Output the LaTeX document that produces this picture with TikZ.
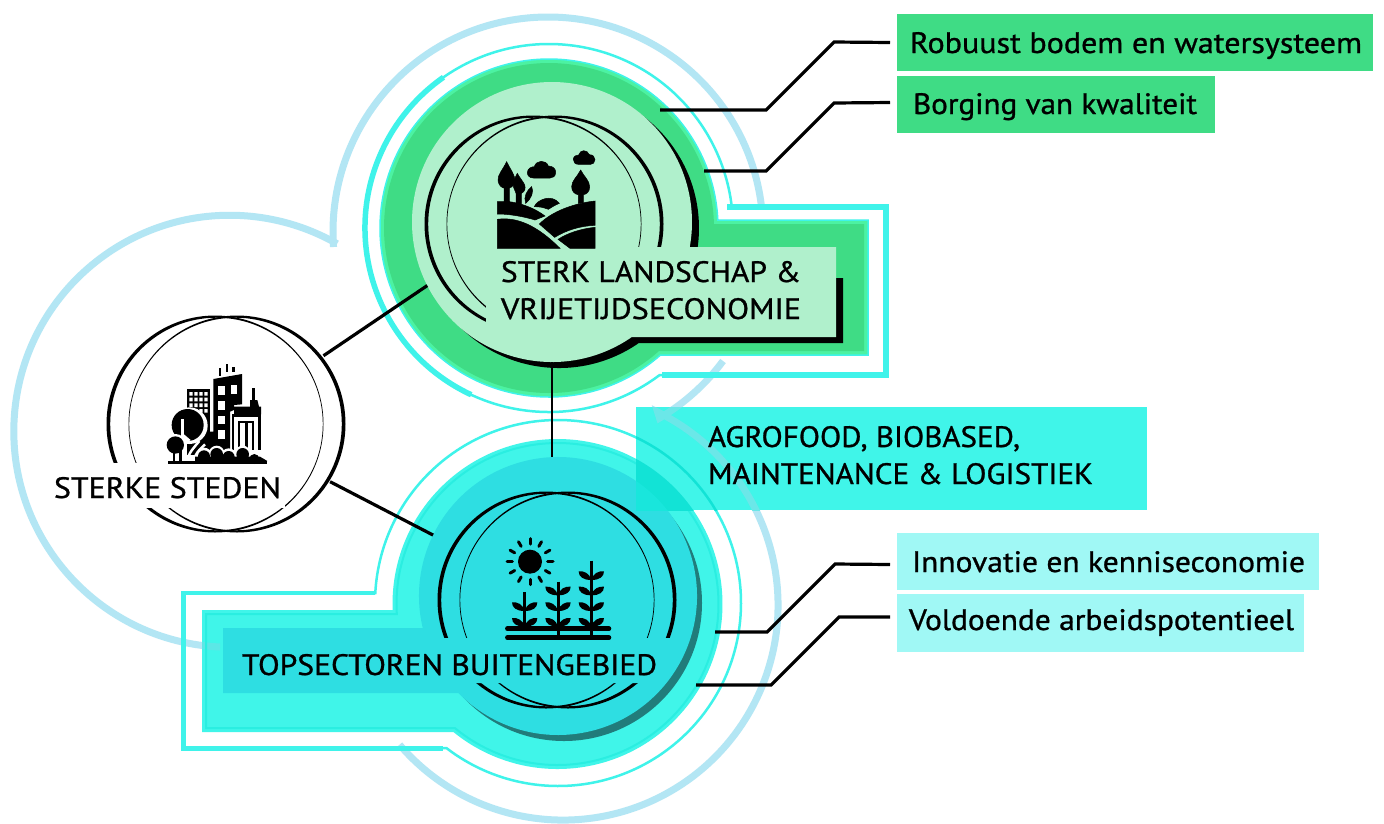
\documentclass[tikz,border=0pt]{standalone}
\usepackage{fontspec}
\usepackage{graphicx}
\setmainfont{PT Sans}[FakeBold=0.9]
\definecolor{skyline}{HTML}{B3E6F4}
\definecolor{cyanline}{HTML}{3FF3EA}
\definecolor{greenmid}{HTML}{3FDC85}
\definecolor{greenedge}{HTML}{4CF2A2}
\definecolor{greenlight}{HTML}{B0F0CC}
\definecolor{cyanmid}{HTML}{40F5E9}
\definecolor{cyanring}{HTML}{14E8DA}
\definecolor{cyandark}{HTML}{2EDEE2}
\definecolor{cyanlight}{HTML}{A0F8F5}
\definecolor{cyanoverlap}{HTML}{12E3D6}
\definecolor{tealshadow}{HTML}{217C7B}
\tikzset{
  skypath/.style={draw=skyline,line width=7pt,miter limit=4},
  lead/.style={draw=black,line width=3.2pt},
  tag/.style={inner sep=0pt,outer sep=0pt,anchor=base west,font=\fontsize{29.5}{33}\selectfont},
  boxshape/.style={inner sep=0pt,outer sep=0pt,anchor=north west},
  hub/.style={circle,inner sep=0pt,outer sep=0pt},
  iconfill/.style={fill=black,draw=black,line width=.5pt},
}
\newcommand\fitw[2]{\resizebox{#1pt}{\height}{#2}}
% keyhole opening to the right: options, cx, cy, r, top, right, bottom
\newcommand\keyR[7][]{%
  \pgfmathsetmacro\kA{360+asin((#5-#3)/#4)}%
  \pgfmathsetmacro\kB{asin((#7-#3)/#4)}%
  \pgfmathsetmacro\kX{#2+#4*cos(\kB)}%
  \path[#1] (\kX,#7) arc[start angle=\kB,end angle=\kA,radius=#4] -- (#6,#5) -- (#6,#7) -- cycle;}
% keyhole opening to the left: options, cx, cy, r, top, left, bottom
\newcommand\keyL[7][]{%
  \pgfmathsetmacro\kA{180-asin((#5-#3)/#4)}%
  \pgfmathsetmacro\kB{540-asin((#7-#3)/#4)}%
  \pgfmathsetmacro\kX{#2+#4*cos(\kA)}%
  \path[#1] (\kX,#5) arc[start angle=\kA,end angle=\kB,radius=#4] -- (#6,#7) -- (#6,#5) -- cycle;}
% pair of overlapping brush circles
\newcommand\brush[3]{%
  \fill[black,even odd rule] (#1-11,#2) circle[radius=108.5] (#1-9.5,#2) circle[radius=106.3];
  \fill[black,even odd rule] (#1+11,#2) circle[radius=108.5] (#1+9.5,#2) circle[radius=106.3];}
\newcommand\leafs[2]{\begin{scope}[shift={(#1,#2)}]
  \fill (0,18) .. controls (-25,18) and (-38,8) .. (-38,-8) .. controls (-22,-10) and (-5,-2) .. cycle;
  \fill (0,18) .. controls (25,18) and (38,8) .. (38,-8) .. controls (22,-10) and (5,-2) .. cycle;
\end{scope}}
\begin{document}
\begin{tikzpicture}[x=1pt,y=1pt,yscale=-1]
\useasboundingbox (0,0) rectangle (1384,823);
\fill[white] (0,0) rectangle (1384,823);

% hub anchors
\node[hub,minimum size=238pt] (city) at (226,424) {};
\node[hub,minimum size=280pt] (land) at (552,222) {};
\node[hub,minimum size=278pt] (farm) at (558,596) {};

% sky-blue bubble outline
\path[skypath] (220,647) arc[start angle=92.6,end angle=299.8,radius=216];
\path[skypath] (548,232) ++(176:215) arc[start angle=176,end angle=352.8,radius=215];
\path[skypath] (723,361) arc[start angle=36.6,end angle=59.5,radius=215]
  -- (657.6,412) arc[start angle=-63.9,end angle=139.5,radius=215];

% green group
\keyR[draw=cyanline,line width=2.5pt]{549}{228}{184}{207}{886}{375}
\draw[cyanline,line width=6pt] (727,207) -- (886,207) -- (886,375) -- (662,375);
\draw[cyanline,line width=5.5pt] (549,228) ++(115:184) arc[start angle=115,end angle=235,radius=184];
\keyR[fill=greenedge,draw=cyanline,line width=1.5pt]{549}{228}{169}{220}{868}{355}
\keyR[fill=greenmid]{549}{228}{165}{224}{864}{351}
\keyR[fill=black]{559}{228}{140}{253}{843}{343}
\fill[greenmid] (836,246) rectangle (850,278);
\keyR[fill=greenlight]{552}{222}{140}{247}{836}{337}
\brush{544}{224}{}
\fill[greenlight] (486,247) rectangle (836,337);

% cyan group
\keyL[draw=cyanline,line width=2.5pt]{558}{603}{183}{593}{183}{748}
\draw[cyanline,line width=4pt] (375,593) -- (183,593);
\draw[cyanline,line width=5pt] (183,591) -- (183,748) -- (443,748);
\keyL[fill=cyanmid]{557.5}{604}{165}{610}{202}{732}
\begin{scope}
  \clip (202,610) rectangle (225,660);
  \path[draw=skyline!45!cyanring,line width=7pt] (220,647) arc[start angle=92.6,end angle=110,radius=216];
\end{scope}
\keyL[draw=cyanring!50!cyanmid,line width=2pt]{557.5}{604}{161}{614}{206}{728}
\fill[tealshadow] (564,603) circle[radius=138];
\keyL[fill=cyandark]{558}{596}{139}{628}{223}{693}
\brush{557}{600}{}
\fill[cyandark] (430,638) -- (678,638) -- (645,683) -- (430,683) -- cycle;

% agro box and what shows through it
\node[boxshape,fill=cyanmid,minimum width=511pt,minimum height=103pt] (boxC) at (636,407) {};
\begin{scope}
  \clip (636,407) rectangle (1147,510);
  \fill[cyanoverlap] (557.5,604) circle[radius=165];
  \fill[cyanring!80!cyandark] (558,596) circle[radius=139];
  \draw[cyanoverlap,line width=2.5pt] (558,603) circle[radius=183];
  \path[draw=skyline!55!cyanring,line width=7pt,miter limit=4] (723,361) arc[start angle=36.6,end angle=59.5,radius=215]
    -- (657.6,412) arc[start angle=-63.9,end angle=0,radius=215];
\end{scope}

% boxes
\node[boxshape,fill=greenmid,minimum width=476pt,minimum height=57pt] (boxA) at (897,14) {};
\node[boxshape,fill=greenmid,minimum width=318pt,minimum height=57pt] (boxB) at (897,76) {};
\node[boxshape,fill=cyanlight,minimum width=422pt,minimum height=57pt] (boxD) at (897,533) {};
\node[boxshape,fill=cyanlight,minimum width=407pt,minimum height=58pt] (boxE) at (897,594) {};

% free ends
\coordinate (startA) at (660,110);
\coordinate (startB) at (704,171);
\coordinate (startD) at (715,632);
\coordinate (startE) at (696,685);
\coordinate (endA) at ([shift={(-7,0)}]boxA.west);
\coordinate (endB) at ([shift={(-7,-2)}]boxB.west);
\coordinate (endD) at ([shift={(-7,3)}]boxD.west);
\coordinate (endE) at ([shift={(-7,-6)}]boxE.west);

% connectors
\draw[lead] (startA) -- (766,110) -- (834,42) -- (endA);
\draw[lead] (startB) -- (766,171) -- (834,103) -- (endB);
\draw[lead] (startD) -- (767,632) -- (835,564) -- (endD);
\draw[lead] (startE) -- (771,685) -- (839,617) -- (endE);
\draw[lead] (city.35.6) -- (land.207.8);
\draw[lead] (city.-29) -- (farm.154.5);
\draw[lead,line width=2.5pt] (land.south) -- (land.south |- farm.north);

% city hub
\brush{226}{424}{}
\fill[white] (100,463) rectangle (285,508);

% labels
\node[tag] (tA) at (910,53) {\fitw{452}{Robuust bodem en watersysteem}};
\node[tag] (tB) at (913,114) {\fitw{284}{Borging van kwaliteit}};
\node[tag] (tD) at (912,572) {\fitw{393}{Innovatie en kenniseconomie}};
\node[tag] (tE) at (909,630) {\fitw{385}{Voldoende arbeidspotentieel}};
\node[tag] (tC1) at (708,447) {\fitw{312}{AGROFOOD, BIOBASED,}};
\node[tag] (tC2) at (708,484) {\fitw{385}{MAINTENANCE \& LOGISTIEK}};
\node[tag] (tL1) at (501,282) {\fitw{300}{STERK LANDSCHAP \&}};
\node[tag] (tL2) at (501,319) {\fitw{300}{VRIJETIJDSECONOMIE}};
\node[tag] (tF) at (242,675) {\fitw{415}{TOPSECTOREN BUITENGEBIED}};
\node[tag] (tS) at (54,498) {\fitw{227}{STERKE STEDEN}};

% landscape icon
\begin{scope}[shift={(480,150)},scale=1/3,every path/.append style={iconfill}]
  \path (80,35) .. controls (68,60) and (52,75) .. (54,92) .. controls (56,108) and (68,114) .. (72,114) -- (72,155) -- (52,155) -- (52,192)
    .. controls (100,192) and (150,205) .. (165,210) .. controls (175,205) and (185,203) .. (195,198) .. controls (165,175) and (125,160) .. (88,155) -- (88,114) .. controls (98,112) and (105,100) .. (105,92) .. controls (105,75) and (92,60) .. (80,35) -- cycle;
  \path (112,70) .. controls (104,85) and (98,95) .. (100,110) -- (108,130) -- (108,160) -- (124,163) -- (124,130) .. controls (135,125) and (137,115) .. (134,105) .. controls (130,95) and (120,85) .. (112,70) -- cycle;
  \path (155,110) .. controls (162,125) and (155,145) .. (137,160) .. controls (130,140) and (140,122) .. (155,110) -- cycle;
  \path (142,68) .. controls (142,55) and (155,50) .. (163,50) .. controls (168,30) and (198,28) .. (205,48) .. controls (220,48) and (228,58) .. (227,68) .. controls (226,80) and (218,84) .. (210,84) -- (160,84) .. controls (150,84) and (142,78) .. (142,68) -- cycle;
  \path (280,28) .. controls (280,18) and (290,15) .. (296,15) .. controls (300,-2) and (322,-2) .. (328,14) .. controls (338,14) and (345,20) .. (345,29) .. controls (345,38) and (338,43) .. (332,43) -- (295,43) .. controls (285,43) and (280,36) .. (280,28) -- cycle;
  \path (302,60) .. controls (292,80) and (275,92) .. (275,110) .. controls (275,125) and (285,133) .. (295,134) -- (295,160) -- (310,158) -- (310,134) .. controls (320,133) and (329,125) .. (329,110) .. controls (329,92) and (312,80) .. (302,60) -- cycle;
  \path (163,170) .. controls (170,150) and (215,130) .. (238,160) .. controls (225,165) and (215,172) .. (205,178) .. controls (190,172) and (178,170) .. (163,170) -- cycle;
  \path (178,222) .. controls (215,185) and (280,160) .. (345,153) -- (345,226) .. controls (300,228) and (260,240) .. (224,262) -- cycle;
  \path (234,268) .. controls (265,248) and (305,236) .. (345,232) -- (345,295) -- (270,295) -- cycle;
  \path (52,208) .. controls (110,200) and (170,225) .. (240,295) -- (52,295) -- cycle;
\end{scope}

% plants icon
\begin{scope}[shift={(490,530)},scale=1/3]
  \fill (120,95) circle[radius=36];
  \foreach \a in {0,30,...,330}
    \draw[line width=3pt,line cap=round] ({120+53*cos(\a)},{95+53*sin(\a)}) -- ({120+69*cos(\a)},{95+69*sin(\a)});
  \draw[line width=4.5pt,line cap=round] (52,296) -- (357,296);
  \draw[line width=4.5pt,line cap=round] (52,323) -- (357,323);
  \draw[line width=3pt] (104,187) -- (104,296);
  \draw[line width=3pt] (204,155) -- (204,323);
  \draw[line width=3pt] (304,92) -- (304,323);
  \leafs{104}{225}\leafs{104}{272}
  \leafs{204}{178}\leafs{204}{225}\leafs{204}{272}
  \leafs{304}{132}\leafs{304}{178}\leafs{304}{225}\leafs{304}{272}
\end{scope}

% city icon
\begin{scope}[shift={(160,355)},scale=1/3]
  \fill (176,38) rectangle (184,62);
  \fill (197,26) rectangle (205,52);
  \fill (217,37) rectangle (226,50);
  % grid building
  \fill (82,103) rectangle (150,300);
  \fill[white] \foreach \i in {0,1,2,3} {\foreach \j in {0,1,2,3} {(88+\i*15,111+\j*17) rectangle (98+\i*15,122+\j*17)}};
  % tall building
  \fill (160,72) -- (246,57) -- (246,148) -- (222,150) -- (222,165) -- (210,170) -- (210,285) -- (150,285) -- (150,230) -- (160,230) -- cycle;
  \fill[white] (174,93) rectangle (194,120);
  \fill[white] (212,90) rectangle (232,118);
  \fill[white] (174,138) rectangle (194,165);
  \fill[white] (174,182) rectangle (194,208);
  \fill[white] (174,225) rectangle (194,252);
  % spire tower
  \fill (276,100) rectangle (286,135);
  \fill (270,135) -- (292,135) -- (297,155) -- (303,155) -- (303,178) -- (222,178) -- (222,155) -- (270,155) -- cycle;
  \fill (215,178) rectangle (302,285);
  \fill[white] (222,186) rectangle (295,292);
  \fill (234,198) rectangle (241,285);
  \fill (256,198) rectangle (263,285);
  \fill (276,198) rectangle (283,285);
  \fill (234,198) rectangle (283,205);
  % trees
  \fill[white] (88,212) circle[radius=55];
  \fill (83,210) circle[radius=48];
  \fill[white] (62,192) rectangle (72,250);
  \fill[white] (72,238) -- (92,255) -- (72,268) -- cycle;
  \fill[white] (47,268) circle[radius=31];
  \fill (46,270) circle[radius=26];
  \fill (38,290) rectangle (46,320);
  \fill (58,270) rectangle (66,320);
  \draw[white,line width=2.5pt] (118,258) .. controls (100,280) and (88,290) .. (80,320);
  \draw[white,line width=2.5pt] (135,268) .. controls (118,285) and (105,295) .. (100,320);
  % bushes
  \fill[white] (132,302) circle[radius=24] (170,296) circle[radius=24] (206,304) circle[radius=24] (248,296) circle[radius=24] (285,310) circle[radius=20];
  \fill (132,304) circle[radius=18] (170,298) circle[radius=19] (206,306) circle[radius=18] (248,298) circle[radius=19] (283,312) circle[radius=15];
  \fill (105,318) -- (105,305) -- (300,305) -- (322,318) -- cycle;
  \fill (25,318) rectangle (322,328);
\end{scope}
\end{tikzpicture}
\end{document}
